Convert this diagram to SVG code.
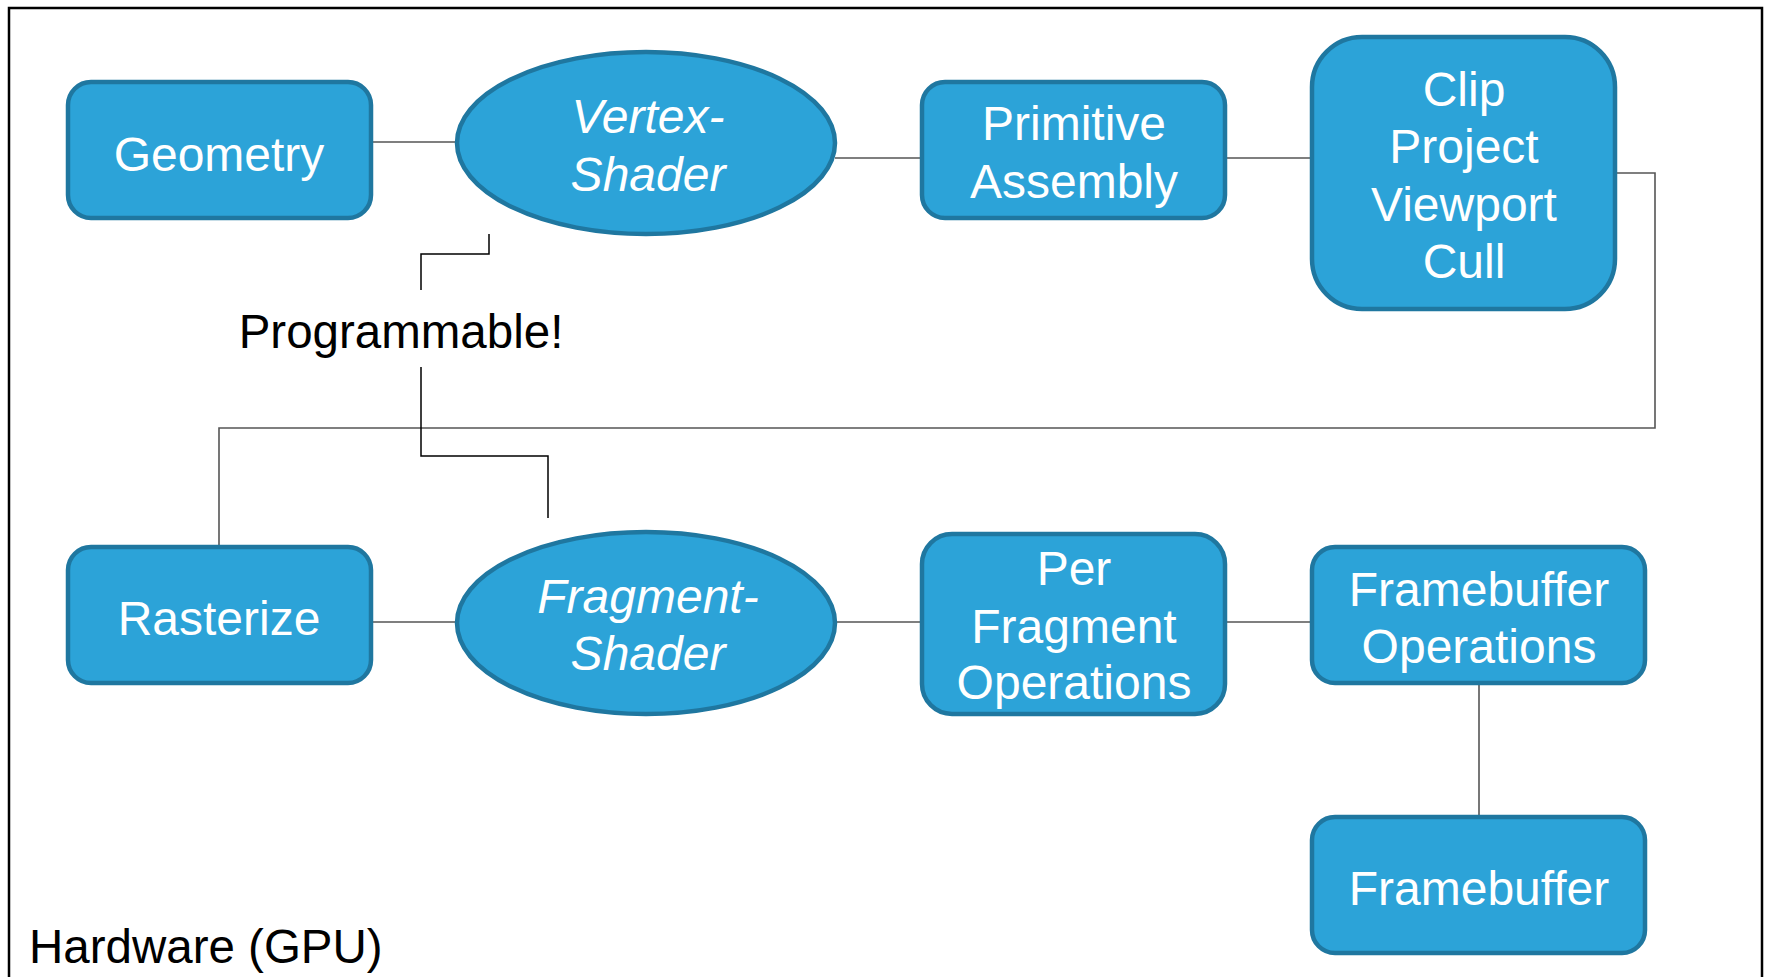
<svg xmlns="http://www.w3.org/2000/svg" width="1765" height="977" viewBox="0 0 1765 977">
  <style>
    .box { fill: #2ca3d8; stroke: #1f77a0; stroke-width: 4.5; }
    .lbl { font-family: "Liberation Sans", Arial, sans-serif; font-size: 48px; fill: #ffffff; text-anchor: middle; }
    .it { font-style: italic; }
    .note { font-family: "Liberation Sans", Arial, sans-serif; font-size: 47.5px; fill: #000000; }
    .wire { fill: none; stroke: #555555; stroke-width: 1.6; }
    .call { fill: none; stroke: #000000; stroke-width: 1.5; }
  </style>

  <rect x="0" y="0" width="1765" height="977" fill="#ffffff"/>

  <!-- GPU frame -->
  <rect id="frame" x="9" y="8" width="1753" height="1000" fill="none" stroke="#000000" stroke-width="2.5"/>

  <!-- connectors -->
  <g id="connectors">
    <path class="wire" d="M371 142 H457"/>
    <path class="wire" d="M835 158 H922"/>
    <path class="wire" d="M1225 158 H1312"/>
    <path class="wire" d="M1615 173 H1655 V428 H219 V547"/>
    <path class="wire" d="M371 622 H457"/>
    <path class="wire" d="M835 622 H922"/>
    <path class="wire" d="M1225 622 H1312"/>
    <path class="wire" d="M1479 684 V817"/>
    <path class="call" d="M489 234 V254 H421 V290"/>
    <path class="call" d="M421 367 V456 H548 V518"/>
  </g>

  <g id="geometry">
    <rect class="box" x="68" y="82" width="303" height="136" rx="23"/>
    <text class="lbl" x="219" y="171">Geometry</text>
  </g>

  <g id="vertex-shader">
    <ellipse class="box" cx="646" cy="143" rx="189" ry="91"/>
    <text class="lbl it" x="648" y="133">Vertex-</text>
    <text class="lbl it" x="648" y="191">Shader</text>
  </g>

  <g id="primitive-assembly">
    <rect class="box" x="922" y="82" width="303" height="136" rx="23"/>
    <text class="lbl" x="1074" y="140">Primitive</text>
    <text class="lbl" x="1074" y="198">Assembly</text>
  </g>

  <g id="clip">
    <rect class="box" x="1312" y="37" width="303" height="272" rx="50"/>
    <text class="lbl" x="1464" y="106">Clip</text>
    <text class="lbl" x="1464" y="163">Project</text>
    <text class="lbl" x="1464" y="221">Viewport</text>
    <text class="lbl" x="1464" y="278">Cull</text>
  </g>

  <g id="programmable">
    <text class="note" x="401" y="348" text-anchor="middle">Programmable!</text>
  </g>

  <g id="rasterize">
    <rect class="box" x="68" y="547" width="303" height="136" rx="23"/>
    <text class="lbl" x="219" y="635">Rasterize</text>
  </g>

  <g id="fragment-shader">
    <ellipse class="box" cx="646" cy="623" rx="189" ry="91"/>
    <text class="lbl it" x="648" y="613">Fragment-</text>
    <text class="lbl it" x="648" y="670">Shader</text>
  </g>

  <g id="per-fragment">
    <rect class="box" x="922" y="534" width="303" height="180" rx="30"/>
    <text class="lbl" x="1074" y="585">Per</text>
    <text class="lbl" x="1074" y="643">Fragment</text>
    <text class="lbl" x="1074" y="699">Operations</text>
  </g>

  <g id="framebuffer-ops">
    <rect class="box" x="1312" y="547" width="333" height="136" rx="23"/>
    <text class="lbl" x="1479" y="606">Framebuffer</text>
    <text class="lbl" x="1479" y="663">Operations</text>
  </g>

  <g id="framebuffer">
    <rect class="box" x="1312" y="817" width="333" height="136" rx="23"/>
    <text class="lbl" x="1479" y="905">Framebuffer</text>
  </g>

  <g id="hardware">
    <text class="note" x="29" y="963" font-size="46">Hardware (GPU)</text>
  </g>
</svg>
